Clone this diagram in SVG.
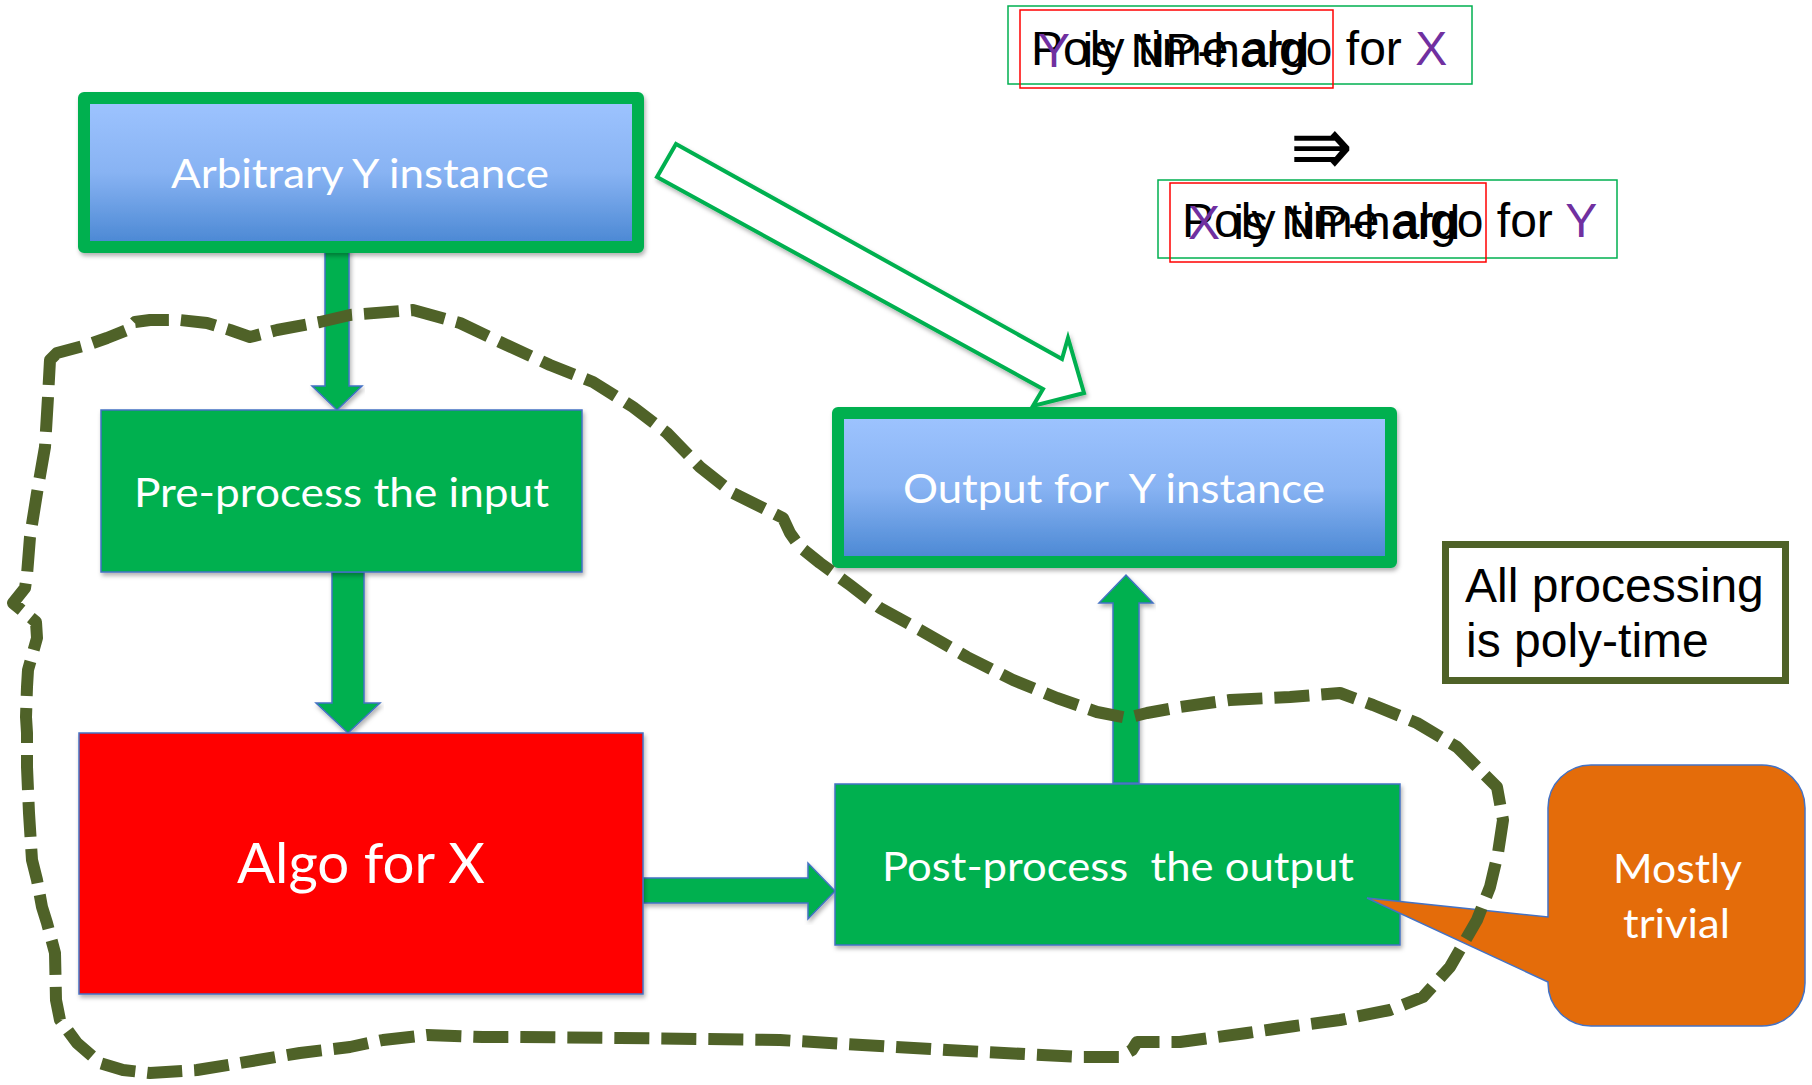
<svg xmlns="http://www.w3.org/2000/svg" width="1812" height="1085" viewBox="0 0 1812 1085">
<style>
  .box { fill: #00B050; stroke: #4472C4; stroke-width: 1.5; }
  .thick { fill: url(#blueGrad); stroke: #00B050; stroke-width: 12; stroke-linejoin: round; }
  .arrow { fill: #00B050; stroke: #4472C4; stroke-width: 1.5; stroke-linejoin: miter; }
  .wt { font-family: Lato, "Open Sans", sans-serif; fill: #FFFFFF; font-size: 41px; }
  .ar { font-family: "Liberation Sans", Arial, sans-serif; font-size: 48px; fill: #000000; }
  .pu { fill: #7030A0; }
  .region { fill: none; stroke: #4F6228; stroke-width: 12; stroke-dasharray: 35 12; stroke-linejoin: round; }
</style>
<defs>
  <linearGradient id="blueGrad" x1="0" y1="0" x2="0" y2="1">
    <stop offset="0" stop-color="#9EC4FF"/>
    <stop offset="0.5" stop-color="#88B3F3"/>
    <stop offset="1" stop-color="#4886D2"/>
  </linearGradient>
  <filter id="sh" x="-5%" y="-5%" width="110%" height="115%">
    <feDropShadow dx="1.5" dy="3" stdDeviation="2" flood-color="#000" flood-opacity="0.3"/>
  </filter>
</defs>
<rect x="0" y="0" width="1812" height="1085" fill="#FFFFFF"/>

<g id="connectors">
  <path id="arrow-arb-pre" class="arrow" filter="url(#sh)" d="M325,247 H349 V386 H362 L337,410 L312,386 H325 Z"/>
  <path id="arrow-pre-algo" class="arrow" filter="url(#sh)" d="M332,572 H364 V703 H380 L348,733 L316,703 H332 Z"/>
  <path id="arrow-algo-post" class="arrow" filter="url(#sh)" d="M643,878 H808 V863 L835,891 L808,919 V903 H643 Z"/>
  <path id="arrow-post-out" class="arrow" filter="url(#sh)" d="M1113,783 V603 H1099 L1126,575 L1153,603 H1139 V783 Z"/>
  <path id="arrow-arb-out" fill="#FFFFFF" stroke="#00B050" stroke-width="4" stroke-linejoin="miter" filter="url(#sh)" d="M676,144 L1062,359 L1068,338 L1084,393 L1033,406 L1043,389 L657,177 Z"/>
</g>

<g id="node-arbitrary">
  <rect class="thick" filter="url(#sh)" x="84" y="98" width="554" height="149"/>
  <text class="wt" x="171" y="188" textLength="378" lengthAdjust="spacingAndGlyphs">Arbitrary Y instance</text>
</g>

<g id="node-preprocess">
  <rect class="box" filter="url(#sh)" x="101" y="410" width="481" height="162"/>
  <text class="wt" x="134" y="507" textLength="415" lengthAdjust="spacingAndGlyphs">Pre-process the input</text>
</g>

<g id="node-algo">
  <rect fill="#FF0000" stroke="#4472C4" stroke-width="1.5" filter="url(#sh)" x="79" y="733" width="564" height="261"/>
  <text class="wt" x="237" y="883" style="font-size:56px" textLength="248" lengthAdjust="spacingAndGlyphs">Algo for X</text>
</g>

<g id="node-postprocess">
  <rect class="box" filter="url(#sh)" x="835" y="784" width="565" height="161"/>
  <text class="wt" x="882" y="881" textLength="472" lengthAdjust="spacingAndGlyphs" xml:space="preserve">Post-process  the output</text>
</g>

<g id="node-output">
  <rect class="thick" filter="url(#sh)" x="838" y="413" width="553" height="149"/>
  <text class="wt" x="903" y="503" textLength="422" lengthAdjust="spacingAndGlyphs" xml:space="preserve">Output for  Y instance</text>
</g>

<g id="node-note">
  <rect x="1445.5" y="544.5" width="340" height="136" fill="#FFFFFF" stroke="#4F6228" stroke-width="7"/>
  <text class="ar" x="1465" y="602">All processing</text>
  <text class="ar" x="1466" y="657">is poly-time</text>
</g>

<g id="node-callout">
  <path fill="#E46C0A" stroke="#4472C4" stroke-width="1.5" d="M1591,765 H1762 A43,43 0 0 1 1805,808 V983 A43,43 0 0 1 1762,1026 H1591 A43,43 0 0 1 1548,983 V982 L1367,898 L1548,917 V808 A43,43 0 0 1 1591,765 Z"/>
  <text class="wt" x="1613" y="883" style="font-size:40px" textLength="129" lengthAdjust="spacingAndGlyphs">Mostly</text>
  <text class="wt" x="1623" y="938" style="font-size:40px" textLength="107" lengthAdjust="spacingAndGlyphs">trivial</text>
</g>

<g id="node-formula1">
  <rect x="1008" y="6" width="464" height="78" fill="none" stroke="#00B050" stroke-width="1.5"/>
  <rect x="1020" y="10" width="313" height="78" fill="none" stroke="#FF0000" stroke-width="1.5"/>
  <text class="ar" x="1031" y="65">Poly time algo for <tspan class="pu">X</tspan></text>
  <text class="ar" x="1038" y="67"><tspan class="pu">Y</tspan> is NP-hard</text>
</g>

<g id="node-implies">
  <text x="1290" y="175" font-family="DejaVu Sans, sans-serif" font-size="84" fill="#000000" textLength="63" lengthAdjust="spacingAndGlyphs">⇛</text>
</g>

<g id="node-formula2">
  <rect x="1158" y="180" width="459" height="78" fill="none" stroke="#00B050" stroke-width="1.5"/>
  <rect x="1170" y="183" width="316" height="79" fill="none" stroke="#FF0000" stroke-width="1.5"/>
  <text class="ar" x="1182" y="237">Poly time algo for <tspan class="pu">Y</tspan></text>
  <text class="ar" x="1188" y="239"><tspan class="pu">X</tspan> is NP-hard</text>
</g>

<g id="region">
  <path class="region" d="M50,360 L57,353 L87,345 L107,338 L127,330 L135,322 L150,320 L180,320 L207,323 L230,330 L250,337 L277,330 L320,322 L350,315 L413,310 L460,323 L500,342 L550,365 L593,382 L633,407 L667,433 L700,467 L733,493 L783,518 L790,533 L800,547 L820,563 L850,585 L880,608 L920,630 L967,657 L1013,680 L1057,698 L1097,712 L1127,718 L1147,713 L1180,707 L1230,700 L1290,697 L1340,693 L1373,705 L1417,723 L1457,747 L1497,787 L1503,820 L1498,853 L1490,887 L1477,920 L1450,967 L1423,997 L1390,1010 L1340,1020 L1295,1026 L1247,1033 L1180,1042 L1137,1042 L1132,1050 L1120,1057 L1080,1057 L947,1050 L780,1040 L620,1038 L520,1037 L483,1037 L427,1035 L383,1040 L350,1047 L300,1053 L240,1063 L197,1070 L150,1073 L123,1070 L100,1063 L77,1043 L60,1020 L56,1000 L55,953 L47,923 L42,907 L37,880 L32,860 L29,813 L27,767 L27,733 L26,717 L27,687 L28,670 L37,638 L36,622 L13,603 L25,588 L27,575 L30,537 L37,493 L45,447 L48,397 Z"/>
</g>
</svg>
